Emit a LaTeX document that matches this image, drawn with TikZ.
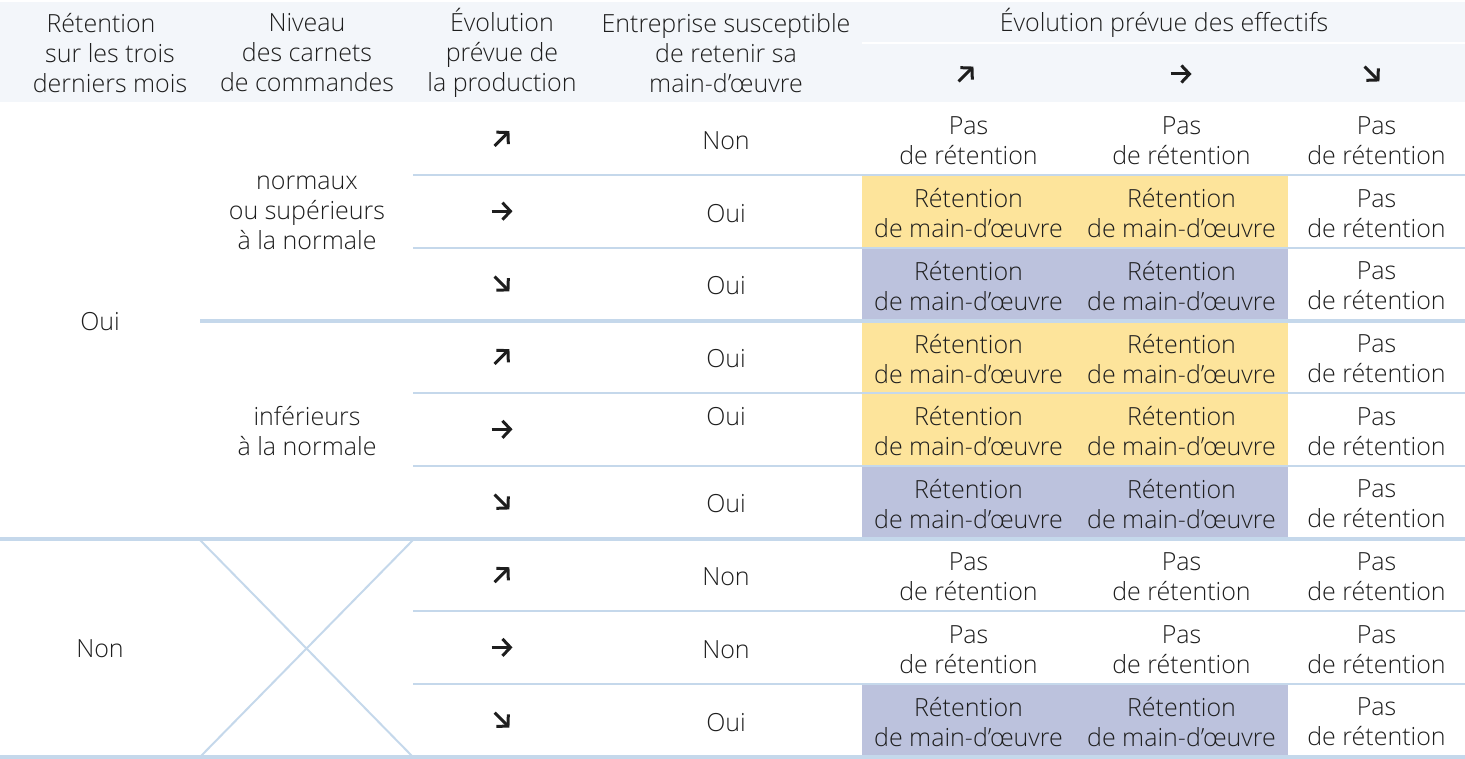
\documentclass[tikz,border=0pt]{standalone}
\usepackage{fontspec}
\setmainfont{Open Sans Light}
\usepackage{tikz}
\usetikzlibrary{arrows.meta}
\definecolor{head}{RGB}{243,246,250}
\definecolor{rule}{RGB}{197,216,235}
\definecolor{retY}{RGB}{253,228,155}
\definecolor{retB}{RGB}{188,194,221}
\definecolor{ink}{RGB}{30,30,30}
\newcommand{\pastext}{Pas\\de rétention}
\newcommand{\rettext}{Rétention\\de main-d’œuvre}
\newcommand{\drawthin}{\draw[rule,line width=1pt]}
\newcommand{\drawthick}{\draw[rule,line width=2pt]}
\newcommand{\trendarrow}[2]{\draw[ink,line width=1.5pt,-{Straight Barb[length=4pt 0,width=8.5pt 0]}] (#1) ++(#2+180:10.5) -- ++(#2:21);}
\tikzset{cell/.style={align=center,text=ink,font=\fontsize{12.5}{15}\selectfont,inner sep=0pt}}

\begin{document}
\begin{tikzpicture}[x=0.5pt,y=-0.5pt]
\useasboundingbox (0,0) rectangle (1465,759);
\fill[head] (0,2) rectangle (1465,102);
\draw[white,line width=0.8pt] (862,43) -- (1465,43);
\node[cell] (h1) at (110,53) {Rétention\hspace*{9pt}\\sur les trois\\derniers mois};
\node[cell] (h2) at (307,53) {Niveau\\des carnets\\de commandes};
\node[cell] (h3) at (502,53) {Évolution\\prévue de\\la production};
\node[cell] (h4) at (726,53) {Entreprise susceptible\\de retenir sa\\main-d’œuvre};
\node[cell] (h5) at (1164,23) {Évolution prévue des effectifs};
\foreach \n/\x/\dir in {up/966/-45,flat/1181/0,down/1372/45}{
  \coordinate (h\n) at (\x,74);
  \trendarrow{h\n}{\dir}
}
\foreach \r/\dir/\ans/\col/\txt in {1/-45/Non/white/\pastext,2/0/Oui/retY/\rettext,3/45/Oui/retB/\rettext,
  4/-45/Oui/retY/\rettext,5/0/{Oui\\\mbox{}}/retY/\rettext,6/45/Oui/retB/\rettext,
  7/-45/Non/white/\pastext,8/0/Non/white/\pastext,9/45/Oui/retB/\rettext}{
  \pgfmathsetmacro{\yt}{102.5+72.7*(\r-1)}
  \pgfmathsetmacro{\yc}{\yt+38}
  \fill[\col] (862,\yt) rectangle (1288,\yt+72.7);
  \coordinate (a\r) at (502,\yc-2);
  \trendarrow{a\r}{\dir}
  \node[cell] (q\r) at (726,\yc) {\ans};
  \node[cell] (u\r) at (968.5,\yc) {\txt};
  \node[cell] (s\r) at (1181.5,\yc) {\txt};
  \node[cell] (d\r) at (1376.5,\yc) {\pastext};
}
\node[cell] (oui) at (100,322) {Oui};
\node[cell] (non) at (100,649) {Non};
\node[cell] (nrm) at (307,213) {normaux\\ou supérieurs\\à la normale};
\node[cell] (inf) at (307,431) {inférieurs\\à la normale};
\foreach \y in {175.2,247.9,393.3,466,611.4,684.1}{
  \drawthin (413,\y) -- (1465,\y);
}
\drawthin (200,540) -- (413,757) (413,540) -- (200,757);
\drawthick (200,320.6) -- (1465,320.6);
\drawthick (0,538.7) -- (1465,538.7);
\drawthick (0,757) -- (1465,757);
\end{tikzpicture}
\end{document}
